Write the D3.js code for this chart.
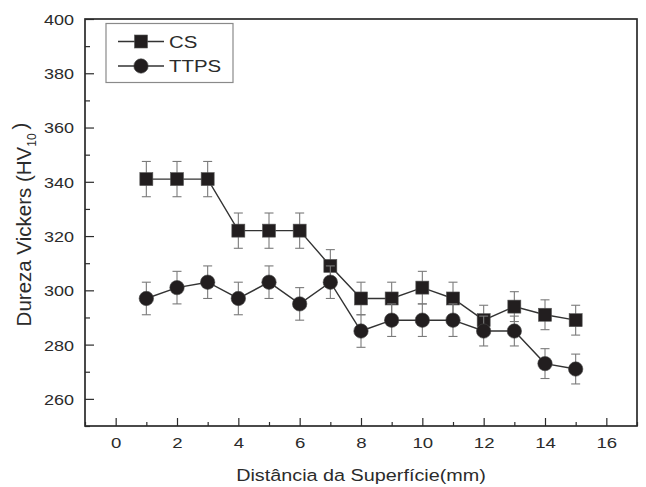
<!DOCTYPE html>
<html>
<head>
<meta charset="utf-8">
<script src="https://cdn.jsdelivr.net/npm/d3@7"></script>
<style>
  html, body { margin: 0; padding: 0; background: #fff; }
  svg { display: block; }
  text { font-family: "Liberation Sans", Arial, Helvetica, sans-serif; fill: #2b2b2b; }
</style>
</head>
<body>
<svg id="chart" width="646" height="487"></svg>
<script>
// Distance from the surface (mm)
const distance = [1, 2, 3, 4, 5, 6, 7, 8, 9, 10, 11, 12, 13, 14, 15];
// Vickers hardness HV10 for each condition
const csHardness   = [341, 341, 341, 322, 322, 322, 309, 297, 297, 301, 297, 289, 294, 291, 289];
const ttpsHardness = [297, 301, 303, 297, 303, 295, 303, 285, 289, 289, 289, 285, 285, 273, 271];
// Standard deviation (error bar half-length)
const csError   = [6.5, 6.5, 6.5, 6.5, 6.5, 6.5, 6, 6, 6, 6, 6, 5.5, 5.5, 5.5, 5.5];
const ttpsError = [6, 6, 6, 6, 6, 6, 6, 6, 6, 6, 6, 5.5, 5.5, 5.5, 5.5];
// Axis ticks
const xTicks = [0, 2, 4, 6, 8, 10, 12, 14, 16];
const xMinorTicks = [-1, 1, 3, 5, 7, 9, 11, 13, 15, 17];
const yTicks = [260, 280, 300, 320, 340, 360, 380, 400];
const yMinorTicks = [250, 270, 290, 310, 330, 350, 370, 390];
const seriesNames = ["CS", "TTPS"];

const svg = d3.select("#chart");
const plotLeft = 85, plotRight = 637, plotTop = 19, plotBottom = 426;
const stretch = 1.2;   // horizontal widening of the lettering
const ink = "#2b2b2b";

const x = d3.scaleLinear().domain([-1, 17]).range([plotLeft, plotRight]);
const y = d3.scaleLinear().domain([250, 400]).range([plotBottom, plotTop]);

// Minor ticks (inward, no labels)
svg.append("g").attr("transform", `translate(0,${plotBottom})`)
  .call(d3.axisBottom(x).tickValues(xMinorTicks).tickSize(-4).tickFormat(""))
  .call(g => g.select(".domain").remove());
svg.append("g").attr("transform", `translate(${plotLeft},0)`)
  .call(d3.axisLeft(y).tickValues(yMinorTicks).tickSize(-5).tickFormat(""))
  .call(g => g.select(".domain").remove());

// Major ticks with labels
const xAxis = svg.append("g").attr("transform", `translate(0,${plotBottom})`)
  .call(d3.axisBottom(x).tickValues(xTicks).tickSize(-8).tickFormat(d3.format("d")));
xAxis.select(".domain").remove();
xAxis.selectAll("text")
  .attr("y", 22).attr("dy", 0)
  .attr("transform", `scale(${stretch},1)`)
  .style("font-size", "15.5px").style("fill", ink);

const yAxis = svg.append("g").attr("transform", `translate(${plotLeft},0)`)
  .call(d3.axisLeft(y).tickValues(yTicks).tickSize(-9).tickFormat(d3.format("d")));
yAxis.select(".domain").remove();
yAxis.selectAll("text")
  .attr("x", -11 / stretch).attr("dy", "0.36em")
  .attr("transform", `scale(${stretch},1)`)
  .style("font-size", "15px").style("fill", ink);

svg.selectAll(".tick line").attr("stroke", ink).attr("stroke-width", 1.2);

// Plot frame
svg.append("rect")
  .attr("x", plotLeft).attr("y", plotTop)
  .attr("width", plotRight - plotLeft).attr("height", plotBottom - plotTop)
  .attr("fill", "none").attr("stroke", ink).attr("stroke-width", 1.7);

// Series
const series = [
  { name: seriesNames[0], values: csHardness, errors: csError, shape: "square" },
  { name: seriesNames[1], values: ttpsHardness, errors: ttpsError, shape: "circle" }
];

const line = d3.line().x(d => x(d.x)).y(d => y(d.v));
const markerColor = "#221e1f";

function drawMarker(g, shape, cx, cy) {
  if (shape === "square") {
    g.append("rect").attr("x", cx - 6.5).attr("y", cy - 6.5)
      .attr("width", 13).attr("height", 13)
      .attr("fill", markerColor).attr("stroke", "#555").attr("stroke-width", 0.6);
  } else {
    g.append("circle").attr("cx", cx).attr("cy", cy).attr("r", 7.2)
      .attr("fill", markerColor).attr("stroke", "#444").attr("stroke-width", 0.6);
  }
}

series.forEach(s => {
  const pts = distance.map((d, i) => ({ x: d, v: s.values[i], e: s.errors[i] }));
  const g = svg.append("g");
  // error bars
  const eb = g.append("g").attr("stroke", "#7a7a7a").attr("stroke-width", 1.1);
  pts.forEach(p => {
    const px = x(p.x);
    eb.append("line").attr("x1", px).attr("x2", px).attr("y1", y(p.v - p.e)).attr("y2", y(p.v + p.e));
    eb.append("line").attr("x1", px - 4.5).attr("x2", px + 4.5).attr("y1", y(p.v + p.e)).attr("y2", y(p.v + p.e));
    eb.append("line").attr("x1", px - 4.5).attr("x2", px + 4.5).attr("y1", y(p.v - p.e)).attr("y2", y(p.v - p.e));
  });
  // connecting line
  g.append("path").datum(pts).attr("d", line)
    .attr("fill", "none").attr("stroke", "#333").attr("stroke-width", 1.4);
  // markers
  pts.forEach(p => drawMarker(g, s.shape, x(p.x), y(p.v)));
});

// Legend
const legend = svg.append("g");
legend.append("rect").attr("x", 106).attr("y", 23.5).attr("width", 127).attr("height", 59)
  .attr("fill", "#fff").attr("stroke", "#8a8a8a").attr("stroke-width", 1.2);
series.forEach((s, i) => {
  const ly = 41.5 + i * 24.5;
  legend.append("line").attr("x1", 118).attr("x2", 164).attr("y1", ly).attr("y2", ly)
    .attr("stroke", "#333").attr("stroke-width", 1.4);
  drawMarker(legend, s.shape, 141, ly);
  legend.append("g").attr("transform", `translate(169,${ly})`)
    .append("text").attr("transform", `scale(${stretch},1)`)
    .attr("dy", "0.36em").style("font-size", "17px").text(s.name);
});

// Axis titles
svg.append("g").attr("transform", `translate(${(plotLeft + plotRight) / 2},${481})`)
  .append("text").attr("transform", `scale(${stretch},1)`)
  .attr("text-anchor", "middle").style("font-size", "16.5px")
  .text("Distância da Superfície(mm)");

const yTitle = svg.append("text")
  .attr("transform", `translate(31,${(plotTop + plotBottom) / 2 + 2}) rotate(-90)`)
  .attr("text-anchor", "middle").style("font-size", "20.5px");
yTitle.append("tspan").text("Dureza Vickers (HV");
yTitle.append("tspan").attr("dy", "0.45em").style("font-size", "12px").text("10");
yTitle.append("tspan").attr("dy", "-0.45em").attr("dx", "4").text(")");
</script>
</body>
</html>
